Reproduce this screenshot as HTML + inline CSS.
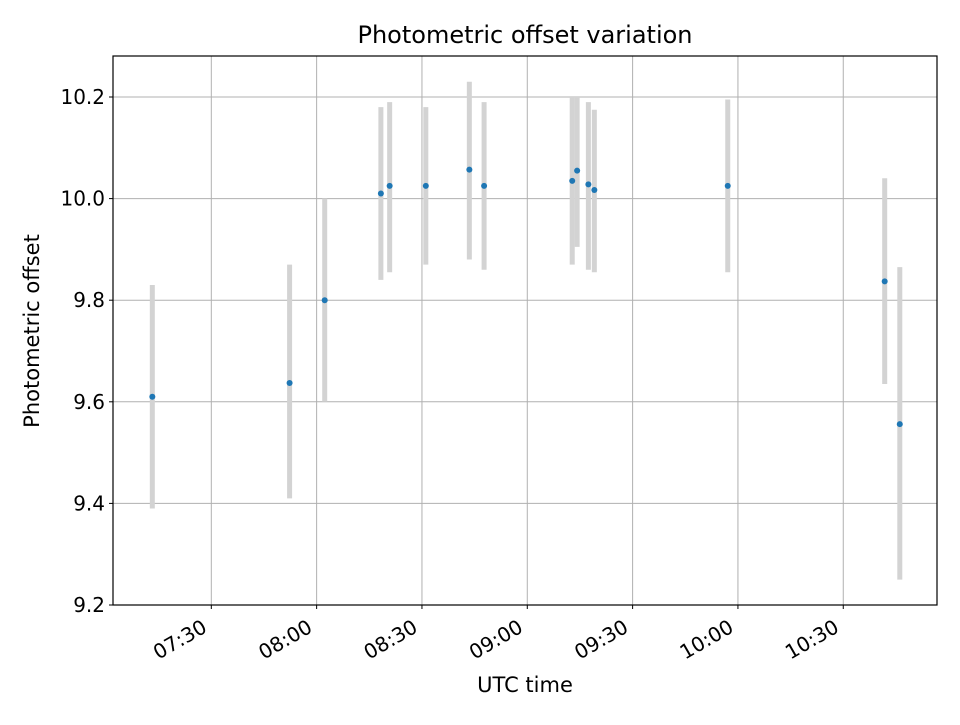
<!DOCTYPE html>
<html><head><meta charset="utf-8"><style>
body{margin:0;background:#fff;font-family:"Liberation Sans","DejaVu Sans",sans-serif}
svg text{font-family:"DejaVu Sans","Liberation Sans",sans-serif;fill:#000}
</style></head><body>
<svg id="chart" width="960" height="720" viewBox="0 0 960 720" xmlns="http://www.w3.org/2000/svg">
<rect width="960" height="720" fill="#fff"/>
<g id="grid"></g><g id="bars"></g><g id="pts"></g><g id="ticks"></g>
<rect x="113" y="56" width="824" height="549" fill="none" stroke="#000" stroke-width="1.2"/>
<text x="525" y="43" font-size="24" text-anchor="middle">Photometric offset variation</text>
<text x="525" y="692" font-size="21" text-anchor="middle">UTC time</text>
<text x="39" y="331" font-size="21" text-anchor="middle" transform="rotate(-90 39 331)">Photometric offset</text>
</svg>
<script>
const times=["07:13.2","07:52.3","08:02.3","08:18.3","08:20.8","08:31.1","08:43.5","08:47.7","09:12.8","09:14.2","09:17.4","09:19.1","09:57.1","10:41.8","10:46.1"];
const values=[9.61,9.637,9.80,10.01,10.025,10.025,10.057,10.025,10.035,10.055,10.028,10.017,10.025,9.837,9.556];
const errLow=[9.39,9.41,9.60,9.84,9.855,9.87,9.88,9.86,9.87,9.905,9.86,9.855,9.855,9.635,9.25];
const errHigh=[9.83,9.87,10.0,10.18,10.19,10.18,10.23,10.19,10.2,10.2,10.19,10.175,10.195,10.04,9.865];
const yTicks=[9.2,9.4,9.6,9.8,10.0,10.2];
const xTicks=["07:30","08:00","08:30","09:00","09:30","10:00","10:30"];
const NS="http://www.w3.org/2000/svg";
function mins(t){const[h,m]=t.split(":");return +h*60+parseFloat(m);}
const X0=113,X1=937,Y0=56,Y1=605,xmin=mins("07:02.0"),xmax=mins("10:56.7"),ymin=9.2,ymax=10.2807;
const sx=t=>X0+(mins(t)-xmin)/(xmax-xmin)*(X1-X0);
const sy=v=>Y1-(v-ymin)/(ymax-ymin)*(Y1-Y0);
function el(tag,attrs,parent,txt){const e=document.createElementNS(NS,tag);for(const k in attrs)e.setAttribute(k,attrs[k]);if(txt!==undefined)e.textContent=txt;document.getElementById(parent).appendChild(e);return e;}
yTicks.forEach(v=>{const y=sy(v);
const g=el("line",{x1:X0,x2:X1,y1:y,y2:y,stroke:"#b0b0b0","stroke-width":1},"grid");


el("line",{x1:X0-4,x2:X0,y1:y,y2:y,stroke:"#000"},"ticks");
const t=el("text",{x:X0-8,y:y+7,"font-size":20,"text-anchor":"end"},"ticks",v.toFixed(1));

});
xTicks.forEach(s=>{const x=sx(s);
const g=el("line",{x1:x,x2:x,y1:Y0,y2:Y1,stroke:"#b0b0b0","stroke-width":1},"grid");


el("line",{x1:x,x2:x,y1:Y1,y2:Y1+4,stroke:"#000"},"ticks");
const ax=x-3,ay=Y1+26;
const t=el("text",{x:ax,y:ay,"font-size":20,"text-anchor":"end",transform:`rotate(-30 ${ax} ${ay})`},"ticks",s);

});
times.forEach((t,i)=>{const x=sx(t);
const b=el("line",{x1:x,x2:x,y1:sy(errLow[i]),y2:sy(errHigh[i]),stroke:"#d3d3d3","stroke-width":5},"bars");


const c=el("circle",{cx:x,cy:sy(values[i]),r:3,fill:"#1f77b4"},"pts");

});
</script>
</body></html>
